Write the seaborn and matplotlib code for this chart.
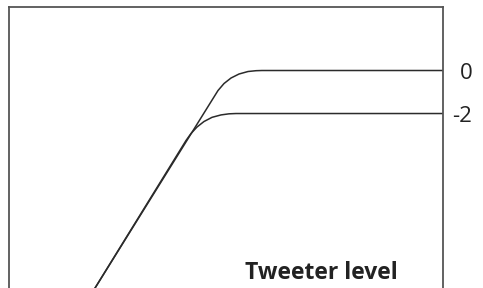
import numpy as np
import pandas as pd
import matplotlib
matplotlib.use("Agg")
import matplotlib.pyplot as plt
import seaborn as sns

sns.set_style("white")
plt.rcParams['font.family'] = ['Open Sans', 'DejaVu Sans']

# curves (x: relative frequency position 0-100, y: level in dB)
x_level0 = [18.76, 47.07, 48.22, 49.60, 51.21, 53.05, 55.12, 56.96, 58.34, 100.0]
y_level0 = [-10.49, -1.302, -0.930, -0.605, -0.349, -0.163, -0.047, -0.009, 0.0, 0.0]

x_level2 = [18.76, 40.85, 42.00, 43.38, 44.99, 46.84, 48.91, 50.75, 52.36, 100.0]
y_level2 = [-10.49, -3.256, -2.930, -2.628, -2.372, -2.177, -2.065, -2.014, -2.0, -2.0]

tick_vals = [0, -2]
tick_labels = ['0', '-2']
title = 'Tweeter level'

df0 = pd.DataFrame({'x': x_level0, 'y': y_level0})
df2 = pd.DataFrame({'x': x_level2, 'y': y_level2})

fig = plt.figure(figsize=(4.83, 2.88), dpi=100)
ax = fig.add_axes([0.0176, -0.141, 0.8996, 1.115])

line_col = '#2b2b2b'
sns.lineplot(data=df0, x='x', y='y', sort=False, estimator=None, color=line_col, lw=1.1, ax=ax)
sns.lineplot(data=df2, x='x', y='y', sort=False, estimator=None, color=line_col, lw=1.1, ax=ax)

ax.set_xlim(0, 100)
ax.set_ylim(-12, 2.93)
ax.set_xticks([])
ax.set_xlabel('')
ax.set_ylabel('')

ax.yaxis.tick_right()
ax.set_yticks(tick_vals)
ax.set_yticklabels(tick_labels)
ax.tick_params(axis='y', length=0, pad=21, labelsize=16, labelcolor='#222222')
for lbl in ax.get_yticklabels():
    lbl.set_horizontalalignment('right')

for s in ax.spines.values():
    s.set_color('#555555')
    s.set_linewidth(1.3)

fig.text(0.665, 0.031, title, ha='center', va='baseline', fontsize=16.5,
         fontweight='bold', color='#222222')

fig.savefig('out.png', dpi=100)
